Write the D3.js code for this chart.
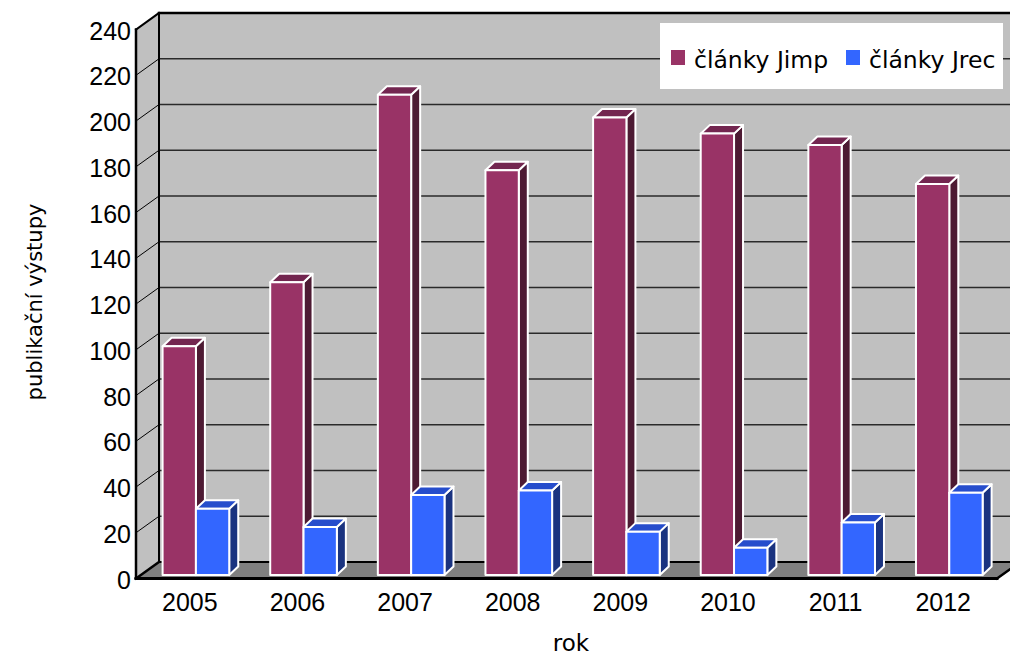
<!DOCTYPE html>
<html>
<head>
<meta charset="utf-8">
<script src="https://cdn.jsdelivr.net/npm/d3@7"></script>
<style>
  html, body { margin: 0; padding: 0; background: #ffffff; }
  svg { display: block; }
</style>
</head>
<body>
<svg id="chart" width="1010" height="657"></svg>
<script>
// Publication output per year, two article series
const years = ['2005', '2006', '2007', '2008', '2009', '2010', '2011', '2012'];
const seriesNames = ['články Jimp', 'články Jrec'];
const jimpValues = [100, 128, 210, 177, 200, 193, 188, 171];
const jrecValues = [29, 21, 35, 37, 19, 12, 23, 36];
const yTickValues = [0, 20, 40, 60, 80, 100, 120, 140, 160, 180, 200, 220, 240];
const xAxisTitle = 'rok';
const yAxisTitle = 'publikační výstupy';

const seriesColors = {
  'články Jimp': { front: '#993366', top: '#732650', side: '#4d1a33' },
  'články Jrec': { front: '#3366ff', top: '#264dcc', side: '#1a3380' }
};

const svg = d3.select('#chart');

// front plane scales
const y = d3.scaleLinear().domain([0, 240]).range([578.5, 29.5]);
const x = d3.scaleBand().domain(years).range([136, 997]);
const xs = d3.scaleBand().domain(seriesNames).range([0, x.bandwidth()]).paddingOuter(0.615);

// depth of the chart box and of each bar
const depth = { dx: 23, dy: -16.5 };
const barShift = { dx: 6.1, dy: -3.4 };
const barDepth = { dx: 9, dy: -8.5 };

const x0 = x.range()[0], x1 = x.range()[1];
const yBase = y(0), yTopFront = y(240);

const pts = a => a.map(p => p.join(',')).join(' ');

// walls and floor
const box = svg.append('g');
box.append('polygon') // left wall
  .attr('points', pts([[x0, yBase], [x0, yTopFront], [x0 + depth.dx, yTopFront + depth.dy], [x0 + depth.dx, yBase + depth.dy]]))
  .attr('fill', '#c0c0c0');
box.append('rect') // back wall
  .attr('x', x0 + depth.dx).attr('y', yTopFront + depth.dy)
  .attr('width', 1100).attr('height', yBase - yTopFront)
  .attr('fill', '#c0c0c0');
box.append('polygon') // floor
  .attr('points', pts([[x0, yBase], [x0 + depth.dx, yBase + depth.dy], [x1 + depth.dx, yBase + depth.dy], [x1, yBase]]))
  .attr('fill', '#808080');

// gridlines on back and left walls
const grid = svg.append('g');
yTickValues.filter(v => v > 0 && v < 240).forEach(v => {
  grid.append('line')
    .attr('x1', x0 + depth.dx).attr('x2', 1100)
    .attr('y1', y(v) + depth.dy).attr('y2', y(v) + depth.dy)
    .attr('stroke', '#2a2a2a').attr('stroke-width', 1.4);
  grid.append('line')
    .attr('x1', x0).attr('x2', x0 + depth.dx)
    .attr('y1', y(v)).attr('y2', y(v) + depth.dy)
    .attr('stroke', '#000').attr('stroke-width', 1);
});

// box outlines
const edges = svg.append('g').attr('stroke', '#000').attr('fill', 'none').attr('stroke-linecap', 'square');
edges.append('line').attr('x1', x0 + depth.dx).attr('x2', 1100)
  .attr('y1', yTopFront + depth.dy).attr('y2', yTopFront + depth.dy).attr('stroke-width', 2.5);
edges.append('line').attr('x1', x0 + depth.dx).attr('x2', x0 + depth.dx)
  .attr('y1', yTopFront + depth.dy).attr('y2', yBase + depth.dy).attr('stroke-width', 2);
edges.append('line').attr('x1', x0).attr('x2', x0 + depth.dx)
  .attr('y1', yTopFront).attr('y2', yTopFront + depth.dy).attr('stroke-width', 2);
edges.append('line').attr('x1', x0 + depth.dx).attr('x2', x1 + depth.dx)
  .attr('y1', yBase + depth.dy).attr('y2', yBase + depth.dy).attr('stroke-width', 2);
edges.append('line').attr('x1', x0).attr('x2', x0 + depth.dx)
  .attr('y1', yBase).attr('y2', yBase + depth.dy).attr('stroke-width', 2.5);
edges.append('line').attr('x1', x1).attr('x2', x1 + depth.dx)
  .attr('y1', yBase).attr('y2', yBase + depth.dy).attr('stroke-width', 2.5);
edges.append('line').attr('x1', x0).attr('x2', x0)
  .attr('y1', yTopFront).attr('y2', yBase).attr('stroke-width', 2.5);
edges.append('line').attr('x1', x0).attr('x2', x1)
  .attr('y1', yBase).attr('y2', yBase).attr('stroke-width', 3);

// bars, drawn left to right so each covers its neighbour's side face
const barData = [];
years.forEach((yr, i) => {
  barData.push({ year: yr, series: seriesNames[0], value: jimpValues[i] });
  barData.push({ year: yr, series: seriesNames[1], value: jrecValues[i] });
});

const bars = svg.append('g')
  .attr('stroke', '#ffffff').attr('stroke-width', 2).attr('stroke-linejoin', 'round');

barData.forEach(d => {
  const c = seriesColors[d.series];
  const bx0 = x(d.year) + xs(d.series) + barShift.dx;
  const bx1 = bx0 + xs.bandwidth();
  const yt = y(d.value) + barShift.dy;
  const yb = y(0) + barShift.dy;
  const g = bars.append('g');
  g.append('polygon') // side
    .attr('points', pts([[bx1, yt], [bx1 + barDepth.dx, yt + barDepth.dy], [bx1 + barDepth.dx, yb + barDepth.dy], [bx1, yb]]))
    .attr('fill', c.side);
  g.append('polygon') // top
    .attr('points', pts([[bx0, yt], [bx0 + barDepth.dx, yt + barDepth.dy], [bx1 + barDepth.dx, yt + barDepth.dy], [bx1, yt]]))
    .attr('fill', c.top);
  g.append('rect') // front
    .attr('x', bx0).attr('y', yt).attr('width', bx1 - bx0).attr('height', yb - yt)
    .attr('fill', c.front);
});

// value axis labels
svg.append('g').selectAll('text').data(yTickValues).join('text')
  .attr('x', 131).attr('y', v => y(v) + 1)
  .attr('text-anchor', 'end').attr('dominant-baseline', 'central')
  .attr('font-family', '"Liberation Sans", Arial, sans-serif').attr('font-size', 25)
  .attr('fill', '#000').text(v => v);

// category labels
svg.append('g').selectAll('text').data(years).join('text')
  .attr('x', d => x(d) + x.bandwidth() / 2).attr('y', 611)
  .attr('text-anchor', 'middle')
  .attr('font-family', '"Liberation Sans", Arial, sans-serif').attr('font-size', 25)
  .attr('fill', '#000').text(d => d);

// axis titles
svg.append('text')
  .attr('x', 571).attr('y', 651).attr('text-anchor', 'middle')
  .attr('font-family', '"DejaVu Sans", sans-serif').attr('font-size', 23)
  .attr('fill', '#000').text(xAxisTitle);
svg.append('text')
  .attr('transform', 'translate(42,302) rotate(-90)').attr('text-anchor', 'middle')
  .attr('font-family', '"DejaVu Sans", sans-serif').attr('font-size', 21)
  .attr('fill', '#000').text(yAxisTitle);

// legend
const legend = svg.append('g');
legend.append('rect').attr('x', 660).attr('y', 23).attr('width', 343).attr('height', 66).attr('fill', '#ffffff');
const legendItems = [{ name: seriesNames[0], mx: 671, tx: 694 }, { name: seriesNames[1], mx: 846, tx: 869 }];
legendItems.forEach(it => {
  legend.append('rect').attr('x', it.mx).attr('y', 50).attr('width', 14).attr('height', 15)
    .attr('fill', seriesColors[it.name].front);
  legend.append('text').attr('x', it.tx).attr('y', 68)
    .attr('font-family', '"DejaVu Sans", sans-serif').attr('font-size', 23.5)
    .attr('fill', '#000').text(it.name);
});
</script>
</body>
</html>
